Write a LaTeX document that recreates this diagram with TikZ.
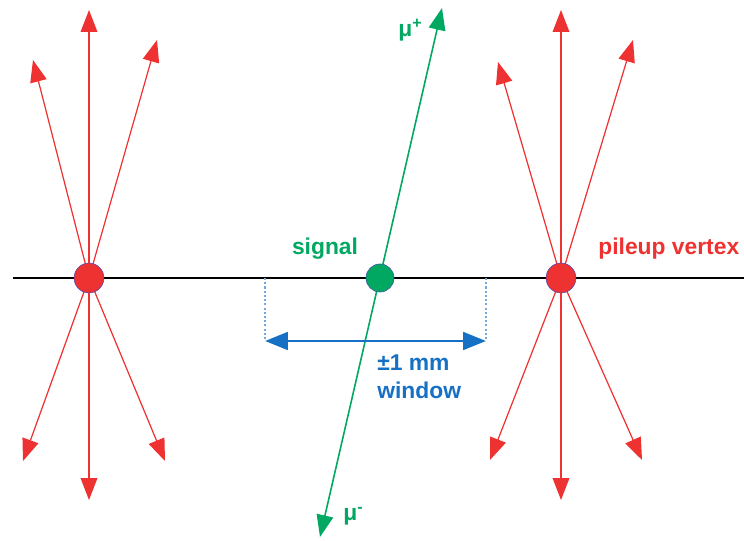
\documentclass[tikz,border=0pt]{standalone}
\usepackage{fontspec}
\setmainfont{Liberation Sans}
\usepackage{xcolor}
\usetikzlibrary{arrows.meta, positioning}

\definecolor{pileupred}{RGB}{238,50,50}
\definecolor{signalgreen}{RGB}{0,168,98}
\definecolor{windowblue}{RGB}{22,112,196}

\tikzset{
  track/.style={pileupred, line width=0.7pt, -{Triangle[length=12.5pt, width=9.5pt]}},
  muon/.style={signalgreen, line width=0.9pt, {Triangle[length=12.5pt, width=9.5pt]}-{Triangle[length=12.5pt, width=9.5pt]}},
  vtxdot/.style={circle, inner sep=0pt, minimum size=17pt, draw=blue!40!gray, line width=0.3pt},
  lbl/.style={font=\fontsize{13}{16}\selectfont\bfseries, inner sep=0pt}
}

\begin{document}
\begin{tikzpicture}[x=0.02cm, y=-0.02cm]
\useasboundingbox (0,0) rectangle (744,541);
% Vertex positions along the beam line
\coordinate (pvl) at (89,278);
\coordinate (sv) at (380,278);
\coordinate (pvr) at (561,278);
% Beam line
\coordinate (beamL) at (13,278);
\coordinate (beamR) at (744,278);
\draw[black, line width=0.9pt] (beamL) -- (beamR);
% Pileup tracks
\foreach \x/\y [count=\k] in {89/10, 33/60, 157/40, 23/461, 165/461, 89/500} {
  \coordinate (tl\k) at (\x,\y);
  \draw[track] (pvl) -- (tl\k);
}
\foreach \x/\y [count=\k] in {561/10, 498/62, 633/40, 490/460, 642/460, 561/500} {
  \coordinate (tr\k) at (\x,\y);
  \draw[track] (pvr) -- (tr\k);
}
% Muon pair from the signal vertex
\coordinate (mum) at (320,537);
\coordinate (mup) at (442,8);
\draw[muon] (mum) -- (mup);
% Window
\coordinate (wl) at (265,278);
\coordinate (wr) at (486,278);
\coordinate (wlb) at (265,341);
\coordinate (wrb) at (486,341);
\draw[windowblue!60, line width=1.1pt, dash pattern=on 1.2pt off 1.2pt] (wl) -- (wlb);
\draw[windowblue!60, line width=1.1pt, dash pattern=on 1.2pt off 1.2pt] (wr) -- (wrb);
\draw[windowblue, line width=1.7pt, {Triangle[length=13pt, width=10pt]}-{Triangle[length=13pt, width=10pt]}] (wlb) -- (wrb);
% Vertices
\node[vtxdot, fill=pileupred] (pvlnode) at (pvl) {};
\node[vtxdot, fill=pileupred] (pvrnode) at (pvr) {};
\node[vtxdot, fill=signalgreen, minimum size=16pt] (svnode) at (sv) {};
% Labels
\node[lbl, signalgreen] (siglabel) at (325,249) {signal};
\node[lbl, pileupred, anchor=west] (pulabel) at (598,249) {pileup vertex};
\node[lbl, windowblue, anchor=north west, align=left] (winlabel) at (377,354) {±1 mm\\window};
\node[lbl, signalgreen, anchor=west] (muplabel) at (398,30) {μ\textsuperscript{+}};
\node[lbl, signalgreen, anchor=west] (mumlabel) at (343,516) {μ\textsuperscript{-}};
\end{tikzpicture}
\end{document}
